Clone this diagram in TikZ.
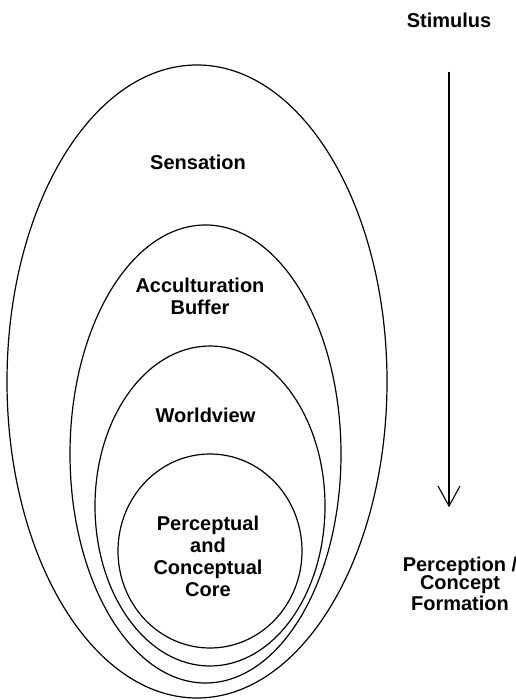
\documentclass[tikz,border=0pt]{standalone}
\usepackage{fontspec}
\setmainfont{Liberation Sans}
\usepackage{tikz}
\usetikzlibrary{arrows.meta}

\begin{document}
\begin{tikzpicture}[x=0.5pt,y=0.5pt]
\tikzstyle{every node}=[font=\fontsize{10}{11}\selectfont\bfseries, align=center, inner sep=0pt]
\useasboundingbox (0,0) rectangle (515,700);
\draw [line width=0.6pt] (197,318.5) ellipse (190 and 316.5);
\draw [line width=0.6pt] (205.5,246) ellipse (135.5 and 229);
\draw [line width=0.6pt] (210,194) ellipse (115 and 160);
\draw [line width=0.6pt] (210,149) ellipse (92 and 97);
\node (sensation) at (198,538) {Sensation};
\node (buffer) at (200,404) {Acculturation\\Buffer};
\node (worldview) at (205.5,285) {Worldview};
\node (core) at (208,144) {Perceptual\\and\\Conceptual\\Core};
\node (stim) at (449,680) {Stimulus};
\node [font=\fontsize{10}{9.25}\selectfont\bfseries] (percept) at (460,116.5) {Perception /\\Concept\\Formation};
\draw [line width=0.55pt, -{Straight Barb[length=10pt,width=11pt]}, shorten <=22pt, shorten >=24.5pt] (stim.south) -- (stim.south |- percept.north);
\end{tikzpicture}
\end{document}
